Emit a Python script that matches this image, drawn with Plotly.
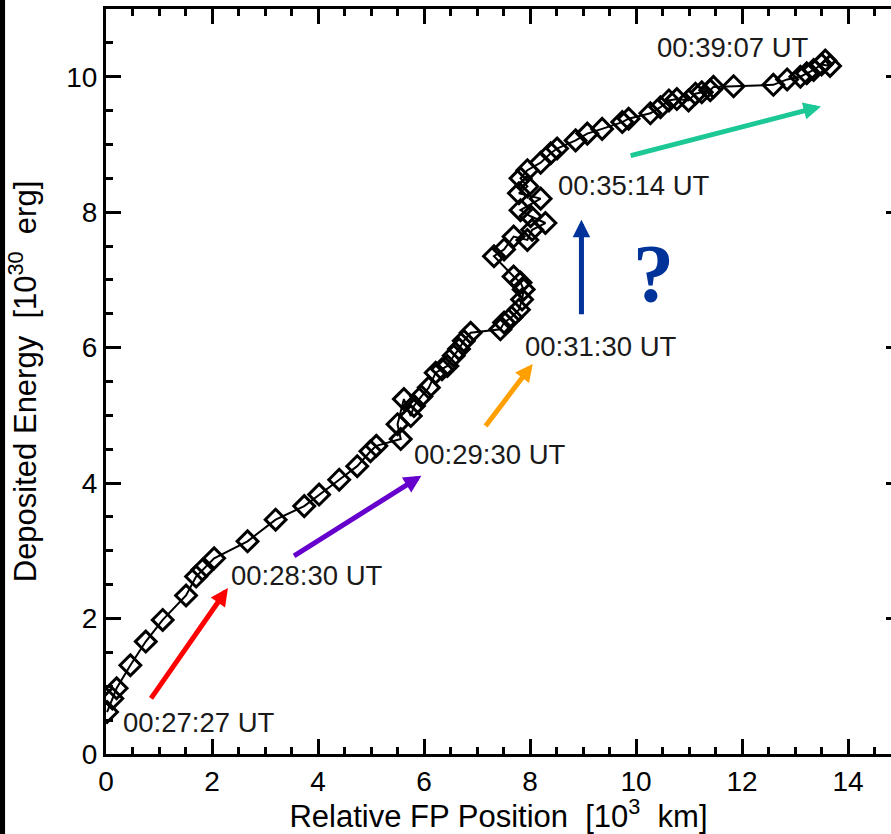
import plotly.graph_objects as go

# Relative footpoint position [10^3 km] and deposited energy [10^30 erg]
fp_position = [0.02, 0.12, 0.20, 0.46, 0.75, 1.07, 1.51, 1.70, 1.82, 2.04, 2.67, 3.20, 3.74, 4.02,
               4.40, 4.74, 4.99, 5.10, 5.56, 5.50, 5.62, 5.75, 5.81, 5.95, 6.09, 6.22, 6.34, 6.44,
               6.56, 6.66, 6.75, 6.88, 7.44, 7.51, 7.65, 7.79, 7.85, 7.88, 7.82, 7.69, 7.32, 7.51,
               7.69, 7.95, 8.04, 8.29, 8.01, 7.82, 8.20, 7.79, 7.95, 7.82, 7.95, 8.20, 8.39, 8.51,
               8.86, 9.08, 9.36, 9.74, 9.86, 10.27, 10.46, 10.62, 10.77, 10.99, 11.12, 11.24, 11.40,
               11.46, 11.84, 12.59, 12.85, 13.10, 13.22, 13.35, 13.50, 13.66, 13.57]
deposited_energy = [0.62, 0.82, 0.97, 1.31, 1.66, 1.98, 2.34, 2.62, 2.72, 2.89, 3.14, 3.46, 3.66, 3.83,
                    4.05, 4.25, 4.47, 4.55, 4.65, 4.87, 5.24, 4.99, 5.14, 5.28, 5.41, 5.63, 5.68, 5.73,
                    5.88, 5.98, 6.10, 6.22, 6.27, 6.37, 6.45, 6.56, 6.71, 6.86, 6.96, 7.05, 7.35, 7.45,
                    7.64, 7.59, 7.74, 7.84, 7.94, 8.03, 8.20, 8.28, 8.38, 8.50, 8.62, 8.73, 8.87, 8.94,
                    9.06, 9.16, 9.23, 9.33, 9.38, 9.46, 9.55, 9.65, 9.67, 9.65, 9.75, 9.77, 9.80,
                    9.85, 9.86, 9.88, 9.96, 10.00, 10.05, 10.10, 10.18, 10.16, 10.24]

x_ticks = [0, 2, 4, 6, 8, 10, 12, 14]
y_ticks = [0, 2, 4, 6, 8, 10]

time_labels = ["00:27:27 UT", "00:28:30 UT", "00:29:30 UT", "00:31:30 UT", "00:35:14 UT", "00:39:07 UT"]
label_x = [1.75, 3.79, 7.24, 9.33, 9.97, 11.83]
label_y = [0.47, 2.64, 4.42, 6.01, 8.40, 10.43]

arrow_colors = ["#ff0000", "#6600cc", "#ffa000", "#003399", "#1cc895"]
arrow_tail_x = [0.83, 3.52, 7.14, 8.97, 9.87]
arrow_tail_y = [0.80, 2.91, 4.82, 6.47, 8.83]
arrow_tip_x = [2.30, 5.95, 8.05, 8.97, 13.49]
arrow_tip_y = [2.45, 4.11, 5.76, 7.89, 9.56]

font_family = "Liberation Sans, Arial, Helvetica, sans-serif"

fig = go.Figure()
fig.add_trace(go.Scatter(
    x=fp_position, y=deposited_energy, mode="lines+markers",
    line=dict(color="black", width=2),
    marker=dict(symbol="diamond-open", size=16, color="black", line=dict(color="black", width=3)),
    showlegend=False, hoverinfo="x+y",
))
# invisible trace to enable right-side tick marks
fig.add_trace(go.Scatter(x=[None], y=[None], yaxis="y2", showlegend=False, hoverinfo="skip"))

annotations = []
for c, tx, ty, hx, hy in zip(arrow_colors, arrow_tail_x, arrow_tail_y, arrow_tip_x, arrow_tip_y):
    annotations.append(dict(
        x=hx, y=hy, ax=tx, ay=ty, xref="x", yref="y", axref="x", ayref="y",
        showarrow=True, arrowhead=2, arrowsize=0.7, arrowwidth=5, arrowcolor=c, text="",
    ))
for t, lx, ly in zip(time_labels, label_x, label_y):
    annotations.append(dict(
        x=lx, y=ly, xref="x", yref="y", text=t, showarrow=False,
        font=dict(family=font_family, size=27.5, color="#1a1a1a"),
    ))
annotations.append(dict(
    x=10.33, y=7.10, xref="x", yref="y", text="<b>?</b>", showarrow=False,
    font=dict(family="Liberation Serif, Times New Roman, serif", size=82, color="#003399"),
))

axis_common = dict(
    showgrid=False, zeroline=False, showline=True, linecolor="black", linewidth=3,
    ticks="inside", ticklen=15, tickwidth=2.5, tickcolor="black", automargin=False,
    tickfont=dict(family=font_family, size=28, color="black"),
    minor=dict(ticks="inside", ticklen=7, tickwidth=2.5, tickcolor="black", dtick=0.5),
)

fig.update_layout(
    width=891, height=834,
    margin=dict(l=106, r=0, t=9, b=80),
    paper_bgcolor="white", plot_bgcolor="white",
    xaxis=dict(range=[0, 14.81], tickvals=x_ticks, mirror="ticks",
               title=dict(text="Relative FP Position  [10<sup>3</sup>  km]",
                          font=dict(family=font_family, size=31, color="black"), standoff=1),
               **axis_common),
    yaxis=dict(range=[0, 11], tickvals=y_ticks, mirror=False,
               title=dict(text="Deposited Energy  [10<sup>30</sup>  erg]",
                          font=dict(family=font_family, size=31, color="black"), standoff=21),
               **axis_common),
    yaxis2=dict(range=[0, 11], overlaying="y", side="right", tickvals=y_ticks, showline=False,
                ticks="inside", ticklen=5, tickwidth=2.5, tickcolor="black", automargin=False,
                showticklabels=False, showgrid=False, zeroline=False),
    annotations=annotations,
    shapes=[dict(type="rect", xref="paper", yref="paper", x0=-0.2, x1=-0.1286, y0=-0.2, y1=1.1,
                 fillcolor="black", line=dict(width=0), layer="above")],
)

fig.write_html("out.html", config={"displayModeBar": False},
               post_script="document.body.style.margin='0';document.body.style.overflow='hidden';")
